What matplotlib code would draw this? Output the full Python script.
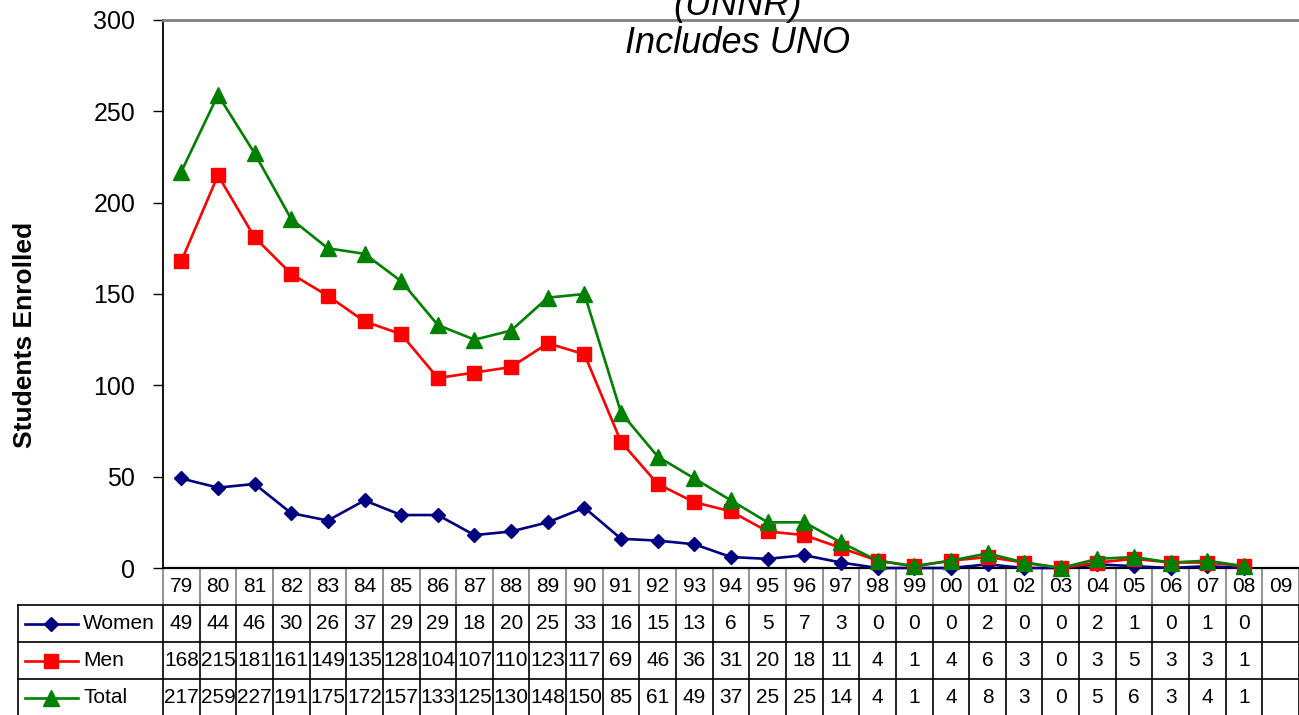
import numpy as np
import matplotlib
matplotlib.use("Agg")
import matplotlib.pyplot as plt

plt.rcParams['font.family'] = ['Liberation Sans', 'DejaVu Sans']

years = ['79', '80', '81', '82', '83', '84', '85', '86', '87', '88', '89', '90',
         '91', '92', '93', '94', '95', '96', '97', '98', '99', '00', '01', '02',
         '03', '04', '05', '06', '07', '08', '09']
women = [49, 44, 46, 30, 26, 37, 29, 29, 18, 20, 25, 33, 16, 15, 13, 6, 5, 7, 3,
         0, 0, 0, 2, 0, 0, 2, 1, 0, 1, 0, None]
men = [168, 215, 181, 161, 149, 135, 128, 104, 107, 110, 123, 117, 69, 46, 36, 31,
       20, 18, 11, 4, 1, 4, 6, 3, 0, 3, 5, 3, 3, 1, None]
total = [217, 259, 227, 191, 175, 172, 157, 133, 125, 130, 148, 150, 85, 61, 49, 37,
         25, 25, 14, 4, 1, 4, 8, 3, 0, 5, 6, 3, 4, 1, None]

series = [
    ('Women', women, '#000080', 'D', 7.5),
    ('Men', men, '#FF0000', 's', 10.5),
    ('Total', total, '#008000', '^', 11),
]

W, H = 1299, 715
fig = plt.figure(figsize=(W / 100, H / 100), dpi=100)
left_px, right_px, top_px, bot_px = 163, 1299, 20, 568
ax = fig.add_axes([left_px / W, (H - bot_px) / H, (right_px - left_px) / W, (bot_px - top_px) / H])

n = len(years)
x = np.arange(n)
for name, vals, col, mk, ms in series:
    y = np.array([np.nan if v is None else v for v in vals], dtype=float)
    ax.plot(x, y, color=col, lw=1.9, marker=mk, ms=ms, mec=col, mfc=col, clip_on=False, zorder=3)

ax.set_xlim(-0.5, n - 0.5)
ax.set_ylim(0, 300)
ax.set_yticks(range(0, 301, 50))
ax.tick_params(axis='y', labelsize=18, length=7, width=1, direction='out', pad=13)
ax.set_xticks([])
ax.spines['right'].set_visible(False)
ax.spines['top'].set_color('#808080')
ax.spines['top'].set_linewidth(2)
ax.spines['left'].set_linewidth(1.3)
ax.spines['bottom'].set_linewidth(1.6)

ax.set_ylabel('Students Enrolled', fontsize=19, fontweight='bold')
ax.yaxis.set_label_coords((37 - left_px) / (right_px - left_px), (bot_px - 335) / (bot_px - top_px))

fig.text(738 / W, 1 - 15 / H, '(UNNR)', ha='center', va='baseline', fontsize=26, style='italic')
fig.text(738 / W, 1 - 53 / H, 'Includes UNO', ha='center', va='baseline', fontsize=26, style='italic')

# data table under the axis
tr = ax.get_xaxis_transform()
col_w = (right_px - left_px) / n
row_h = 37 / (bot_px - top_px)


def px2x(px):
    return -0.5 + (px - left_px) / col_w


lab_left = px2x(18)
for r in range(1, 4):
    ax.plot([lab_left, n - 0.5], [-r * row_h] * 2, color='black', lw=1.2, transform=tr, clip_on=False)
for i in range(n + 1):
    xx = i - 0.5
    ax.plot([xx, xx], [0, -row_h], color='#808080', lw=1.2, transform=tr, clip_on=False)
    ax.plot([xx, xx], [-row_h, -4 * row_h], color='black', lw=1.2, transform=tr, clip_on=False)
ax.plot([lab_left, lab_left], [-row_h, -4 * row_h], color='black', lw=1.2, transform=tr, clip_on=False)

for i, yr in enumerate(years):
    ax.text(i, -0.5 * row_h, yr, ha='center', va='center', fontsize=15, transform=tr)

for r, (name, vals, col, mk, ms) in enumerate(series):
    yc = -(r + 1.5) * row_h
    ax.plot([px2x(25), px2x(78)], [yc, yc], color=col, lw=1.9, transform=tr, clip_on=False)
    ax.plot([px2x(51)], [yc], color=col, marker=mk, ms=ms, transform=tr, clip_on=False)
    ax.text(px2x(83), yc, name, ha='left', va='center', fontsize=15, transform=tr)
    for i, v in enumerate(vals):
        if v is not None:
            ax.text(i, yc, str(v), ha='center', va='center', fontsize=15, transform=tr)

fig.savefig('out.png', dpi=100)
